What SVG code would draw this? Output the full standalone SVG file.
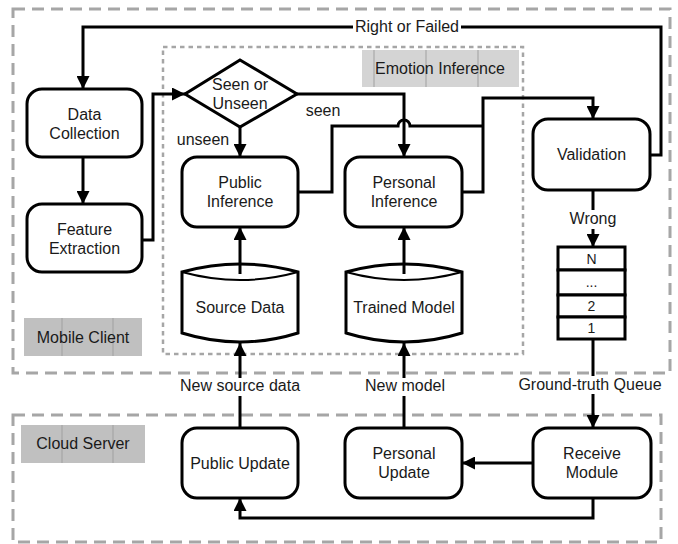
<svg xmlns="http://www.w3.org/2000/svg" width="678" height="544" viewBox="0 0 678 544">
<style>
text{font-family:"Liberation Sans",Arial,sans-serif;font-size:16px;fill:#1a1a1a;text-anchor:middle}
.node{fill:#fff;stroke:#000;stroke-width:3}
.conn{fill:none;stroke:#000;stroke-width:3}
.dash{fill:none;stroke:#a6a6a6;stroke-width:3;stroke-dasharray:12 7}
.dot{fill:none;stroke:#a6a6a6;stroke-width:2.5;stroke-dasharray:4.5 4}
.cell{stroke:#a0a0a0;stroke-width:1}
.bg{fill:#fff}
.q{font-size:14px}
</style>
<defs>
<marker id="arr" markerUnits="userSpaceOnUse" viewBox="0 0 13 13" markerWidth="13" markerHeight="13" refX="13" refY="6.5" orient="auto">
<path d="M0,0 L13,6.5 L0,13 z" fill="#000"/>
</marker>
</defs>

<g id="containers">
<rect class="dash" x="13" y="9" width="657" height="364"/>
<rect class="dash" x="13" y="415" width="648" height="127"/>
<rect class="dot" x="163" y="47" width="360" height="307"/>
</g>

<g id="label-emotion">
<rect x="362" y="50" width="157" height="37" fill="#d4d4d4"/>
<line class="cell" x1="374" y1="50" x2="374" y2="87" stroke="#c4c4c4"/>
<line class="cell" x1="426" y1="50" x2="426" y2="87" stroke="#c4c4c4"/>
<line class="cell" x1="478" y1="50" x2="478" y2="87" stroke="#c4c4c4"/>
<text x="440" y="74">Emotion Inference</text>
</g>
<g id="label-mobile">
<rect x="24" y="318" width="118" height="38" fill="#c0c0c0"/>
<line class="cell" x1="62" y1="318" x2="62" y2="356"/>
<line class="cell" x1="113" y1="318" x2="113" y2="356"/>
<text x="83" y="343">Mobile Client</text>
</g>
<g id="label-cloud">
<rect x="21" y="425" width="124" height="38" fill="#c0c0c0"/>
<line class="cell" x1="62" y1="425" x2="62" y2="463"/>
<line class="cell" x1="113" y1="425" x2="113" y2="463"/>
<text x="83" y="449">Cloud Server</text>
</g>

<g id="data-collection">
<rect class="node" x="27" y="89" width="115" height="68" rx="15"/>
<text x="84.5" y="120">Data</text>
<text x="84.5" y="139">Collection</text>
</g>
<g id="feature-extraction">
<rect class="node" x="27" y="204" width="115" height="68" rx="15"/>
<text x="84.5" y="235">Feature</text>
<text x="84.5" y="254">Extraction</text>
</g>
<g id="seen-or-unseen">
<path class="node" d="M240,60 L297,94 L240,127 L185,94 z"/>
<text x="240" y="90">Seen or</text>
<text x="240" y="109">Unseen</text>
</g>
<g id="public-inference">
<rect class="node" x="182" y="157" width="116" height="70" rx="15"/>
<text x="240" y="188">Public</text>
<text x="240" y="207">Inference</text>
</g>
<g id="personal-inference">
<rect class="node" x="345" y="157" width="117" height="70" rx="15"/>
<text x="404" y="188">Personal</text>
<text x="404" y="207">Inference</text>
</g>
<g id="validation">
<rect class="node" x="533" y="119" width="117" height="71" rx="15"/>
<text x="591.5" y="160">Validation</text>
</g>
<g id="source-data">
<path class="node" d="M182,272 Q240,256 298,272 L298,333 Q240,351 182,333 Z"/>
<path fill="none" stroke="#000" stroke-width="2" d="M182,272 Q240,288 298,272"/>
<text x="240" y="313">Source Data</text>
</g>
<g id="trained-model">
<path class="node" d="M346,272 Q404,256 462,272 L462,333 Q404,351 346,333 Z"/>
<path fill="none" stroke="#000" stroke-width="2" d="M346,272 Q404,288 462,272"/>
<text x="404" y="313">Trained Model</text>
</g>
<g id="ground-truth-queue">
<rect class="node" x="558" y="247" width="67" height="23"/>
<rect class="node" x="558" y="270" width="67" height="25"/>
<rect class="node" x="558" y="295" width="67" height="22"/>
<rect class="node" x="558" y="317" width="67" height="22"/>
<text class="q" x="591.5" y="264">N</text>
<text class="q" x="591.5" y="287">...</text>
<text class="q" x="591.5" y="311">2</text>
<text class="q" x="591.5" y="333">1</text>
</g>
<g id="public-update">
<rect class="node" x="182" y="428" width="116" height="70" rx="15"/>
<text x="240" y="469">Public Update</text>
</g>
<g id="personal-update">
<rect class="node" x="345" y="428" width="117" height="70" rx="15"/>
<text x="404" y="459">Personal</text>
<text x="404" y="478">Update</text>
</g>
<g id="receive-module">
<rect class="node" x="533" y="428" width="118" height="70" rx="15"/>
<text x="592" y="459">Receive</text>
<text x="592" y="478">Module</text>
</g>

<g id="connectors">
<!-- Right or Failed -->
<path class="conn" d="M650,155 H661 V27 H83 V89" marker-end="url(#arr)"/>
<rect class="bg" x="353" y="18" width="108" height="18"/>
<text x="407" y="32">Right or Failed</text>
<!-- Data Collection -> Feature Extraction -->
<path class="conn" d="M83,157 V204" marker-end="url(#arr)"/>
<!-- Feature Extraction -> Diamond -->
<path class="conn" d="M142,240 H153 V94 H185" marker-end="url(#arr)"/>
<!-- Diamond -> Public Inference -->
<path class="conn" d="M240,127 V157" marker-end="url(#arr)"/>
<text x="203" y="145">unseen</text>
<!-- Diamond -> Personal Inference -->
<path class="conn" d="M297,94 H404 V157" marker-end="url(#arr)"/>
<text x="323" y="116">seen</text>
<!-- Public Inference -> Validation (with hop) -->
<path class="conn" d="M298,192 H332 V126 H398 A6,6 0 0 1 410,126 H483"/>
<!-- Personal Inference -> Validation -->
<path class="conn" d="M462,192 H483 V98 H593 V119" marker-end="url(#arr)"/>
<!-- Validation -> Queue -->
<path class="conn" d="M593,190 V247" marker-end="url(#arr)"/>
<rect class="bg" x="570" y="210" width="46" height="19"/>
<text x="593" y="224">Wrong</text>
<!-- Queue -> Receive Module -->
<path class="conn" d="M593,339 V428" marker-end="url(#arr)"/>
<rect class="bg" x="540" y="376" width="135" height="18"/>
<text x="590" y="390">Ground-truth Queue</text>
<!-- Source Data -> Public Inference -->
<path class="conn" d="M240,274 V227" marker-end="url(#arr)"/>
<!-- Trained Model -> Personal Inference -->
<path class="conn" d="M404,274 V227" marker-end="url(#arr)"/>
<!-- Public Update -> Source Data -->
<path class="conn" d="M240,428 V343" marker-end="url(#arr)"/>
<rect class="bg" x="178" y="378" width="124" height="18"/>
<text x="240" y="391">New source data</text>
<!-- Personal Update -> Trained Model -->
<path class="conn" d="M404,428 V343" marker-end="url(#arr)"/>
<rect class="bg" x="364" y="378" width="82" height="18"/>
<text x="405" y="391">New model</text>
<!-- Receive Module -> Personal Update -->
<path class="conn" d="M533,463 H462" marker-end="url(#arr)"/>
<!-- Receive Module -> Public Update -->
<path class="conn" d="M593,498 V518 H240 V498" marker-end="url(#arr)"/>
</g>
</svg>
